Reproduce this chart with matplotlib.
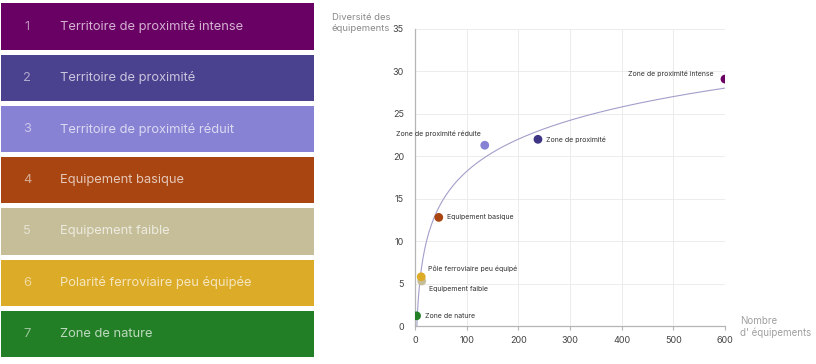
import numpy as np
import matplotlib
matplotlib.use("Agg")
from matplotlib import pyplot as plt

plt.rcParams['font.family'] = ['Inter', 'DejaVu Sans']

# legende des zones
categories = ['Territoire de proximité intense', 'Territoire de proximité',
              'Territoire de proximité réduit', 'Equipement basique',
              'Equipement faible', 'Polarité ferroviaire peu équipée',
              'Zone de nature']
colors = ['#690064', '#4a418f', '#8782d4', '#a84511', '#c5be99', '#dcab28', '#227f26']

# nuage de points
point_labels = ['Zone de proximité intense', 'Zone de proximité',
                'Zone de proximité réduite', 'Equipement basique',
                'Equipement faible', 'Pôle ferroviaire peu équipé',
                'Zone de nature']
nb_equip = [600, 238, 135, 46, 13, 12, 3]
diversite = [29.1, 22.0, 21.3, 12.8, 5.3, 5.8, 1.2]
point_colors = ['#690064', '#3f3585', '#8782d4', '#a84511', '#c5be99', '#dcab28', '#227f26']
# decalage des etiquettes (points), alignement
label_offsets = [(-8, 4, 'right'), (6, 0, 'left'), (-3, 8, 'right'), (6, 0, 'left'),
                 (5, -6, 'left'), (5, 6, 'left'), (6, 0, 'left')]

fig = plt.figure(figsize=(8.16, 3.64), dpi=100)

# --- legende a gauche ---
ax_leg = fig.add_axes([1 / 816, 0.0121, 313 / 816, 0.9854])
ax_leg.barh(range(len(categories)), [1] * len(categories), height=0.9,
            color=colors, edgecolor='none')
for i, name in enumerate(categories):
    ax_leg.text(0.083, i, str(i + 1), color='white', alpha=0.55,
                fontsize=9.3, va='center', ha='center')
    ax_leg.text(0.19, i, name, color='white', alpha=0.7,
                fontsize=9.3, va='center', ha='left')
ax_leg.set_xlim(0, 1)
ax_leg.set_ylim(len(categories) - 0.5, -0.5)
ax_leg.axis('off')

# --- graphique ---
ax = fig.add_axes([415 / 816, 1 - 326 / 364, 310 / 816, 297 / 364])

# courbe de tendance logarithmique
a, b = np.polyfit(np.log(nb_equip), diversite, 1)
xs = np.linspace(np.exp(-b / a), 600, 400)
ax.plot(xs, a * np.log(xs) + b, color='#a29fca', lw=0.8, zorder=2)

ax.scatter(nb_equip, diversite, s=40, c=point_colors, zorder=3, edgecolors='none')
for x, y, lab, (dx, dy, ha) in zip(nb_equip, diversite, point_labels, label_offsets):
    ax.annotate(lab, (x, y), xytext=(dx, dy), textcoords='offset points',
                fontsize=5, color='#333333', ha=ha, va='center')

ax.set_xlim(0, 600)
ax.set_ylim(0, 35)
ax.set_xticks(range(0, 601, 100))
ax.set_yticks(range(0, 36, 5))
ax.grid(True, color='#ececec', lw=0.7)
ax.set_axisbelow(True)
for s in ['top', 'right']:
    ax.spines[s].set_visible(False)
for s in ['left', 'bottom']:
    ax.spines[s].set_color('#b5b5b5')
    ax.spines[s].set_linewidth(0.9)
ax.tick_params(axis='both', labelsize=6.5, colors='#b5b5b5', labelcolor='#444444')
ax.tick_params(axis='y', length=0, pad=8)
ax.tick_params(axis='x', length=3, pad=4)

fig.text(332 / 816, 1 - 23 / 364, 'Diversité des\néquipements', fontsize=6.8,
         color='#8a8a8a', ha='left', va='center', linespacing=1.15)
fig.text(740 / 816, 1 - 327 / 364, "Nombre\nd' équipements", fontsize=7,
         color='#a0a0a0', ha='left', va='center', linespacing=1.15)

fig.savefig('out.png', dpi=100)
